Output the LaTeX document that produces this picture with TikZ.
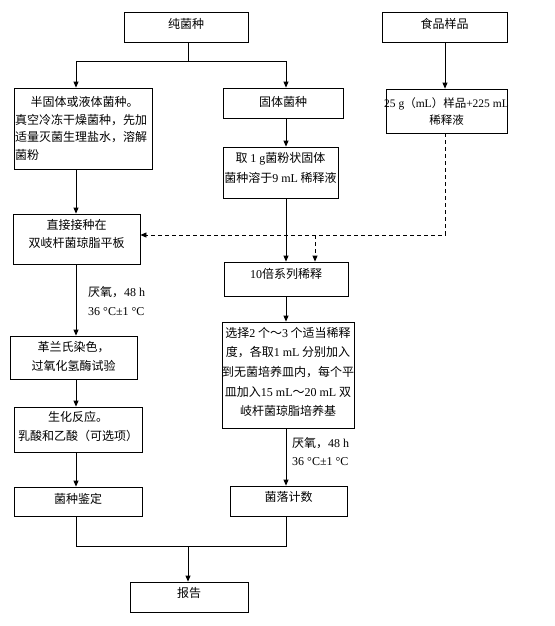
\documentclass[tikz,border=0pt]{standalone}
\usepackage{fontspec}
\setmainfont{Noto Sans CJK SC}
\newfontfamily\lat{Liberation Serif}
\usetikzlibrary{arrows.meta}
\tikzset{
  box/.style={draw, line width=0.8pt, inner sep=0pt},
  txt/.style={inner sep=0pt, align=center, font=\fontsize{12}{19}\selectfont},
  arr/.style={line width=0.8pt, -{Triangle[length=6pt,width=5pt]}},
  ln/.style={line width=0.8pt},
  dsh/.style={line width=0.8pt, dash pattern=on 4pt off 3pt},
  lbl/.style={anchor=west, inner sep=0pt, font=\fontsize{12}{19}\selectfont}
}
\begin{document}
\begin{tikzpicture}[x=1pt,y=-1pt]
\useasboundingbox (0,0) rectangle (554,626);
% boxes
\node[box, minimum width=124pt, minimum height=30pt] (pure) at (186,27) {};
\node[txt] (pure-t) at (186,24) {纯菌种};
\node[box, minimum width=125pt, minimum height=30pt] (food) at (444.5,27) {};
\node[txt] (food-t) at (444.5,24) {食品样品};
\node[box, minimum width=138pt, minimum height=81pt] (semi) at (83,128.5) {};
\node[txt, text width=136pt, align=left, font=\fontsize{12}{17.7}\selectfont] (semi-t) at (83,128.5)
  {\hspace{1.3em}半固体或液体菌种。\\真空冷冻干燥菌种，先加\\适量灭菌生理盐水，溶解\\菌粉};
\node[box, minimum width=120pt, minimum height=30pt] (solid) at (283,103) {};
\node[txt] (solid-t) at (283,102) {固体菌种};
\node[box, minimum width=121pt, minimum height=44pt] (sample) at (446.5,111) {};
\node[txt, font=\fontsize{11.5}{17}\selectfont] (sample-t) at (446.5,111.5) {{\lat 25 g}（{\lat mL}）样品{\lat +225 mL}\\稀释液};
\node[box, minimum width=115pt, minimum height=51pt] (take) at (280.5,172.5) {};
\node[txt, font=\fontsize{12}{20}\selectfont] (take-t) at (280.5,168) {取 {\lat 1 g}菌粉状固体\\菌种溶于{\lat 9 mL} 稀释液};
\node[box, minimum width=127pt, minimum height=50pt] (direct) at (76.5,239) {};
\node[txt, font=\fontsize{12}{18}\selectfont] (direct-t) at (76.5,234) {直接接种在\\双岐杆菌琼脂平板};
\node[box, minimum width=124pt, minimum height=34pt] (ten) at (286,279) {};
\node[txt] (ten-t) at (286,274) {{\lat 10}倍系列稀释};
\node[box, minimum width=132pt, minimum height=106pt] (select) at (288,375) {};
\node[txt, font=\fontsize{12}{19.7}\selectfont] (select-t) at (288,372)
  {选择{\lat 2} 个～{\lat 3} 个适当稀释\\度，各取{\lat 1 mL} 分别加入\\到无菌培养皿内，每个平\\皿加入{\lat 15 mL}～{\lat 20 mL} 双\\岐杆菌琼脂培养基};
\node[box, minimum width=127pt, minimum height=43pt] (gram) at (73.5,357.5) {};
\node[txt] (gram-t) at (73.5,356.5) {革兰氏染色，\\过氧化氢酶试验};
\node[box, minimum width=128pt, minimum height=45pt] (bio) at (78,429.5) {};
\node[txt] (bio-t) at (78,426.5) {生化反应。\\乳酸和乙酸（可选项）};
\node[box, minimum width=128pt, minimum height=29pt] (ident) at (78,501.5) {};
\node[txt] (ident-t) at (78,499) {菌种鉴定};
\node[box, minimum width=117pt, minimum height=30pt] (count) at (288.5,501) {};
\node[txt] (count-t) at (288.5,497) {菌落计数};
\node[box, minimum width=118pt, minimum height=30pt] (report) at (189,597) {};
\node[txt] (report-t) at (189,593) {报告};
% labels
\node[lbl] (l1a) at (88,292) {厌氧，{\lat 48 h}};
\node[lbl] (l1b) at (88,312) {\lat 36 °C±1 °C};
\node[lbl] (l2a) at (292,443) {厌氧，{\lat 48 h}};
\node[lbl] (l2b) at (292,462) {\lat 36 °C±1 °C};
% bend coordinates
\coordinate (t0) at (188,61);
\coordinate (tL) at (76,61);
\coordinate (tR) at (286,61);
\coordinate (dR) at (445,235);
\coordinate (dM) at (315,235);
\coordinate (bL) at (76,546);
\coordinate (bR) at (286,546);
\coordinate (bM) at (188,546);
% connectors
\draw[ln] (pure.south -| t0) -- (t0);
\draw[ln] (tL) -- (tR);
\draw[arr] (tL) -- (tL |- semi.north);
\draw[arr] (tR) -- (tR |- solid.north);
\draw[arr] (food.south -| dR) -- (dR |- sample.north);
\draw[arr] (solid.south -| tR) -- (tR |- take.north);
\draw[arr] (take.south -| tR) -- (tR |- ten.north);
\draw[arr] (ten.south -| tR) -- (tR |- select.north);
\draw[arr] (select.south -| tR) -- (tR |- count.north);
\draw[dsh, -{Triangle[length=6pt,width=5pt]}] (sample.south -| dR) -- (dR) -- (dR -| direct.east);
\draw[dsh, -{Triangle[length=6pt,width=5pt]}] (dM) -- (dM |- ten.north);
\draw[arr] (semi.south -| tL) -- (tL |- direct.north);
\draw[arr] (direct.south -| tL) -- (tL |- gram.north);
\draw[arr] (gram.south -| tL) -- (tL |- bio.north);
\draw[arr] (bio.south -| tL) -- (tL |- ident.north);
\draw[ln] (ident.south -| tL) -- (bL) -- (bR) -- (count.south -| tR);
\draw[arr] (bM) -- (bM |- report.north);
\end{tikzpicture}
\end{document}
